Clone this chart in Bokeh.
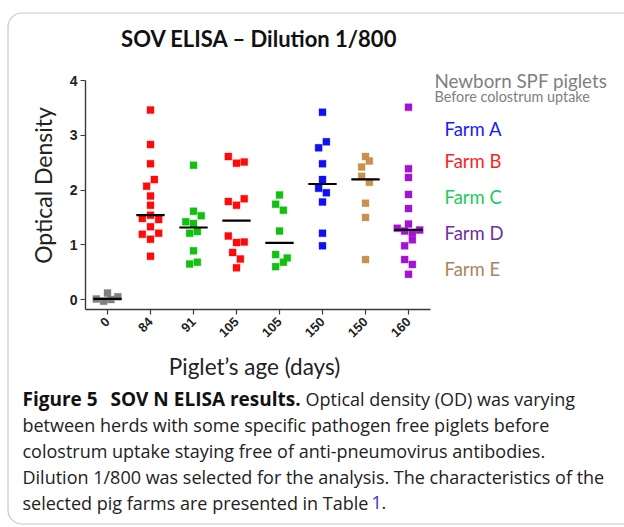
import math
import numpy as np
from bokeh.plotting import figure
from bokeh.models import Range1d, FixedTicker, Label, LinearAxis, BoxAnnotation
from bokeh.embed import file_html
from bokeh.resources import INLINE

# ---------------- data ----------------
ages = ["0", "84", "91", "105", "105", "150", "150", "160"]
herds = ["SPF", "Farm B", "Farm C", "Farm B", "Farm C", "Farm A", "Farm E", "Farm D"]

od_spf = [0.01, -0.03, 0.12, 0.00, 0.05]
od_b84 = [3.46, 2.83, 2.48, 2.19, 2.07, 1.89, 1.72, 1.54, 1.48, 1.46, 1.33, 1.19, 1.21, 1.10, 0.79]
od_c91 = [2.45, 1.61, 1.53, 1.42, 1.39, 1.21, 1.24, 0.89, 0.65, 0.68]
od_b105 = [2.61, 2.49, 2.51, 1.79, 1.72, 1.84, 1.16, 1.04, 1.05, 0.86, 0.74, 0.58]
od_c105 = [1.91, 1.74, 1.63, 1.25, 0.82, 0.76, 0.68, 0.60]
od_a150 = [3.42, 2.88, 2.77, 2.48, 2.19, 2.03, 1.95, 1.78, 1.21, 0.98]
od_e150 = [2.61, 2.53, 2.42, 2.25, 2.14, 1.76, 1.50, 0.73]
od_d160 = [3.51, 2.39, 2.23, 1.92, 1.66, 1.38, 1.30, 1.25, 1.22, 1.27, 1.09, 0.98, 0.73, 0.64, 0.46]

# spread of each point within its column (fraction of a column width)
jit_spf = [-0.26, -0.09, 0.0, 0.08, 0.24]
jit_b84 = [0, 0, 0, 0.09, -0.09, 0, 0, 0, -0.19, 0.19, 0, -0.19, 0.19, 0, 0]
jit_c91 = [0, 0, 0.18, -0.18, 0, -0.09, 0.09, 0, -0.09, 0.09]
jit_b105 = [-0.19, 0, 0.18, -0.19, 0, 0.18, -0.19, 0, 0.18, -0.09, 0.09, 0]
jit_c105 = [0, -0.09, 0.09, 0, -0.09, 0.18, 0.09, -0.09]
jit_a150 = [0, 0.09, -0.09, 0, 0, -0.09, 0.09, 0, 0, 0]
jit_e150 = [0, 0.09, -0.09, -0.09, 0.09, 0, 0, 0]
jit_d160 = [0, 0, 0, 0, 0, 0, -0.26, -0.09, 0.09, 0.26, 0.09, -0.09, -0.09, 0.09, 0]

series = [od_spf, od_b84, od_c91, od_b105, od_c105, od_a150, od_e150, od_d160]
jitters = [jit_spf, jit_b84, jit_c91, jit_b105, jit_c105, jit_a150, jit_e150, jit_d160]

point_colors = {"SPF": "#808080", "Farm A": "#1010f2", "Farm B": "#ff0a0a",
                "Farm C": "#12c012", "Farm D": "#a412d6", "Farm E": "#c8914f"}

legend_items = ["Farm A", "Farm B", "Farm C", "Farm D", "Farm E"]
legend_colors = {"Farm A": "#1a1aff", "Farm B": "#ff1f1f", "Farm C": "#22cc5a",
                 "Farm D": "#7030a0", "Farm E": "#a8865c"}

# ---------------- layout ----------------
W, H = 624, 527
# pixel placement of the data area on the canvas
X0_PX, DX_PX = 107.0, 43.0      # first column centre, column pitch
Y0_PX, DY_PX = 299.0, 54.75     # OD = 0 line, pixels per OD unit
X_LO, X_HI = -0.512, 7.512      # axis extents (data)
Y_LO, Y_HI = -0.183, 4.0

x_start = (0 - X0_PX) / DX_PX
x_end = (W - X0_PX) / DX_PX
y_start = (Y0_PX - H) / DY_PX
y_end = Y0_PX / DY_PX

p = figure(width=W, height=H, output_backend="svg", toolbar_location=None,
           x_range=Range1d(x_start, x_end), y_range=Range1d(y_start, y_end),
           x_axis_location=None, y_axis_location=None,
           min_border_left=0, min_border_right=0, min_border_top=0, min_border_bottom=0)
p.title.visible = False
p.outline_line_color = None
p.grid.visible = False
p.background_fill_color = "white"
p.border_fill_color = "white"

yax = LinearAxis(fixed_location=X_LO, bounds=(Y_LO, Y_HI), ticker=FixedTicker(ticks=[0, 1, 2, 3, 4]))
xax = LinearAxis(fixed_location=Y_LO, bounds=(X_LO, X_HI), ticker=FixedTicker(ticks=list(range(len(ages)))))
xax.major_label_overrides = {i: a for i, a in enumerate(ages)}

for ax in (xax, yax):
    ax.axis_line_color = "#3a3a3a"
    ax.axis_line_width = 1.4
    ax.major_tick_line_color = "#3a3a3a"
    ax.major_tick_line_width = 1.2
    ax.major_tick_in = 0
    ax.major_tick_out = 5
    ax.minor_tick_line_color = None
    ax.major_label_text_font = "Liberation Sans"
    ax.major_label_text_font_style = "bold"
    ax.major_label_text_color = "#222222"

yax.major_label_text_font_size = "14px"
yax.major_label_standoff = 3
xax.major_label_orientation = math.pi / 4
xax.major_label_text_font_size = "13px"
xax.major_label_standoff = 5
p.add_layout(yax, "left")
p.add_layout(xax, "below")

for i, (vals, jit) in enumerate(zip(series, jitters)):
    xs = [i + j for j in jit]
    c = point_colors[herds[i]]
    p.scatter(xs, vals, marker="square", size=7, fill_color=c, line_color=c,
              line_alpha=0.35, line_width=1)
    med = float(np.median(vals))
    p.segment(x0=[i - 0.33], x1=[i + 0.33], y0=[med], y1=[med],
              line_color="black", line_width=2.2)


def to_dx(px):
    return (px - X0_PX) / DX_PX


def to_dy(py):
    return (Y0_PX - py) / DY_PX


# surrounding frame of the figure panel
p.add_layout(BoxAnnotation(left=to_dx(7.5), right=to_dx(680), top=to_dy(12.5), bottom=to_dy(523.5),
                           fill_color=None, fill_alpha=0, line_color="#4d4d4d", line_width=1.2,
                           border_radius=14))


def lab(px, py, text, size, color="#222222", font="Lato", style="normal",
        align="left", baseline="middle", angle=0.0):
    p.add_layout(Label(x=px, y=py, x_units="canvas", y_units="canvas",
                       text=text, text_font=font, text_font_size=size,
                       text_font_style=style, text_color=color,
                       text_align=align, text_baseline=baseline, angle=angle))


# title and axis titles
lab(259, 38, "SOV ELISA \u2013 Dilution 1/800", "22px", "#111111", style="bold", align="center")
lab(42, 185, "Optical Density", "23px", "#222222", align="center", angle=math.pi / 2)
lab(254, 366, "Piglet\u2019s age (days)", "22.5px", "#222222", align="center")

# legend texts
lab(434, 80, "Newborn SPF piglets", "18.8px", "#808080")
lab(434, 96, "Before colostrum uptake", "14.4px", "#808080")
legend_y = [128, 160, 196, 232, 268]
for name, ly in zip(legend_items, legend_y):
    lab(444, ly, name, "18.5px", legend_colors[name])

# caption
cap_font = "Open Sans"
cap_size = "18px"
lab(22, 398, "Figure 5", "19px", "#111111", font=cap_font, style="bold")
lab(110, 398, "SOV N ELISA results.", "19px", "#111111", font=cap_font, style="bold")
lab(305, 398, "Optical density (OD) was varying", cap_size, "#222222", font=cap_font)
lab(22, 424, "between herds with some specific pathogen free piglets before", cap_size, "#222222", font=cap_font)
lab(22, 450, "colostrum uptake staying free of anti-pneumovirus antibodies.", cap_size, "#222222", font=cap_font)
lab(22, 476, "Dilution 1/800 was selected for the analysis. The characteristics of the", cap_size, "#222222", font=cap_font)
lab(22, 502, "selected pig farms are presented in Table", cap_size, "#222222", font=cap_font)
lab(371, 502, "1", cap_size, "#3333dd", font=cap_font)
lab(381, 502, ".", cap_size, "#222222", font=cap_font)

open("out.html", "w").write(file_html(p, INLINE))
